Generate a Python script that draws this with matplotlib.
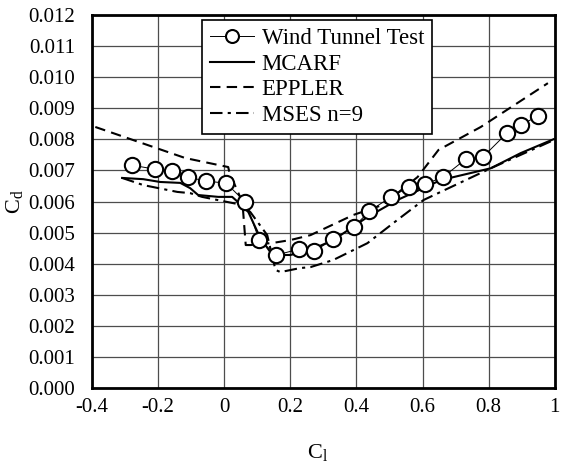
import matplotlib
matplotlib.use("Agg")
import matplotlib.pyplot as plt
from matplotlib.ticker import FuncFormatter

plt.rcParams['font.family'] = ['Liberation Serif', 'DejaVu Serif']
plt.rcParams['mathtext.fontset'] = 'custom'
plt.rcParams['mathtext.rm'] = 'Liberation Serif'
plt.rcParams['mathtext.it'] = 'Liberation Serif'

# wind tunnel test points (Cl, Cd)
wt_cl = [-0.279, -0.209, -0.158, -0.109, -0.055, 0.006, 0.064, 0.106, 0.158, 0.227,
         0.273, 0.330, 0.391, 0.439, 0.503, 0.558, 0.607, 0.661, 0.730, 0.782,
         0.855, 0.897, 0.948]
wt_cd = [0.00717, 0.00704, 0.00698, 0.00678, 0.00666, 0.00659, 0.00598, 0.00476, 0.00428, 0.00447,
         0.00441, 0.00479, 0.00517, 0.00569, 0.00614, 0.00646, 0.00656, 0.00678, 0.00736, 0.00743,
         0.00820, 0.00846, 0.00875]

# MCARF
mcarf_cl = [-0.309, -0.245, -0.194, -0.133, -0.103, -0.079, -0.018, 0.024, 0.042, 0.073,
            0.109, 0.139, 0.160, 0.200, 0.261, 0.330, 0.433, 0.524, 0.655, 0.806, 0.897, 0.997]
mcarf_cd = [0.00676, 0.00672, 0.00663, 0.00660, 0.00643, 0.00621, 0.00615, 0.00615, 0.00598, 0.00566,
            0.00483, 0.00438, 0.00428, 0.00428, 0.00444, 0.00476, 0.00550, 0.00605, 0.00669, 0.00707, 0.00756, 0.00801]

# EPPLER
eppler_cl = [-0.390, -0.118, 0.012, 0.016, 0.055, 0.065, 0.079, 0.148, 0.200, 0.261,
             0.391, 0.479, 0.585, 0.648, 0.776, 0.979]
eppler_cd = [0.00840, 0.00740, 0.00711, 0.00692, 0.00598, 0.00460, 0.00460, 0.00467, 0.00476, 0.00492,
             0.00557, 0.00589, 0.00679, 0.00766, 0.00840, 0.00981]

# MSES n=9
mses_cl = [-0.309, -0.245, -0.142, -0.103, -0.067, 0.012, 0.055, 0.079, 0.130, 0.155,
           0.170, 0.230, 0.261, 0.330, 0.433, 0.524, 0.603, 0.806, 0.997]
mses_cd = [0.00676, 0.00653, 0.00631, 0.00627, 0.00615, 0.00598, 0.00589, 0.00566, 0.00492, 0.00380,
           0.00373, 0.00386, 0.00389, 0.00412, 0.00466, 0.00541, 0.00605, 0.00707, 0.00798]

x_ticks = [-0.4, -0.2, 0, 0.2, 0.4, 0.6, 0.8, 1.0]
y_ticks = [i * 0.001 for i in range(13)]

fig = plt.figure(figsize=(5.61, 4.72), dpi=100)
ax = fig.add_axes([0.164, 0.178, 0.825, 0.790])

ax.plot(wt_cl, wt_cd, color='black', linewidth=0.7, marker='o', markersize=11,
        markerfacecolor='white', markeredgecolor='black', markeredgewidth=1.5,
        label='Wind Tunnel Test', zorder=5)
ax.plot(mcarf_cl, mcarf_cd, color='black', linewidth=1.5, linestyle='-', label='MCARF')
ax.plot(eppler_cl, eppler_cd, color='black', linewidth=1.5, linestyle=(0, (5, 3)), label='EPPLER')
ax.plot(mses_cl, mses_cd, color='black', linewidth=1.5, linestyle=(0, (6, 2.5, 1.5, 2.5)), label='MSES n=9')

ax.set_xlim(-0.4, 1.0)
ax.set_ylim(0, 0.012)
ax.set_xticks(x_ticks)
ax.set_yticks(y_ticks)
ax.xaxis.set_major_formatter(FuncFormatter(lambda v, p: f'{v:g}'))
ax.yaxis.set_major_formatter(FuncFormatter(lambda v, p: f'{v:.3f}'))
ax.tick_params(length=0, labelsize=15)
ax.tick_params(axis='x', pad=7)
ax.tick_params(axis='y', pad=12)
ax.grid(True, color='0.3', linewidth=0.9)
for s in ax.spines.values():
    s.set_linewidth(2)

ax.set_xlabel(r'$\mathregular{C_l}$', fontsize=16)
ax.set_ylabel(r'$\mathregular{C_d}$', fontsize=16)
ax.xaxis.set_label_coords(0.488, -0.145)
ax.yaxis.set_label_coords(-0.145, 0.5)

leg = ax.legend(loc='upper left', bbox_to_anchor=(0.238, 0.987), fontsize=16.5, frameon=True,
                fancybox=False, edgecolor='black', framealpha=1, handlelength=1.9,
                markerscale=0.85, borderpad=0.35, labelspacing=0.2, handletextpad=0.35,
                borderaxespad=0)
leg.get_frame().set_linewidth(1.2)

plt.savefig('out.png', dpi=100)
